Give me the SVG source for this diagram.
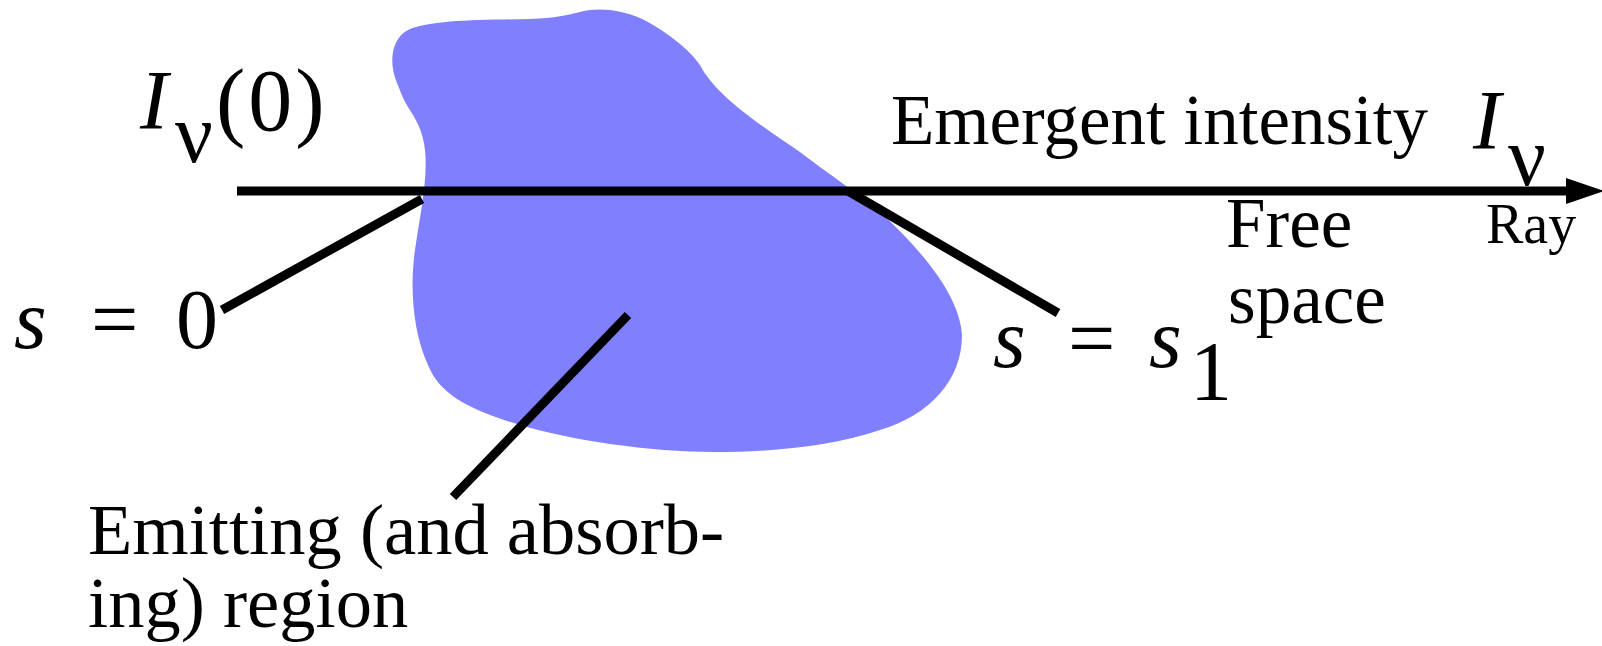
<svg xmlns="http://www.w3.org/2000/svg" width="1602" height="646" viewBox="0 0 1602 646">
<style>
text { font-family: "Liberation Serif", "Times New Roman", serif; fill: #000; }
.t { font-size: 71px; }
.m { font-size: 84px; }
.it { font-style: italic; }
.ln { stroke: #000; stroke-width: 9; fill: none; stroke-linecap: butt; }
</style>
<rect width="1602" height="646" fill="#fff"/>
<g id="region">
<path fill="#8080FF" d="M 397,83 C 388,62 392,38 408,30 C 430,20 480,20 530,19 C 555,18 568,15 580,12 C 600,7 620,10 640,18 C 665,30 690,50 700,65 C 715,95 760,125 800,152 C 830,175 860,195 880,212 C 930,258 960,300 962,335 C 962,380 930,415 880,430 C 830,447 770,452 714,452 C 650,452 570,440 520,425 C 470,410 440,395 428,365 C 412,330 410,285 415,250 C 420,215 428,180 425,150 C 423,130 415,118 408,107 C 402,97 400,90 397,83 Z"/>
</g>
<g id="connectors">
<line class="ln" x1="237" y1="191" x2="1570" y2="191"/>
<polygon points="1566,178 1604,191 1566,204" fill="#000"/>
<line class="ln" x1="222" y1="310" x2="422" y2="199"/>
<line class="ln" x1="848" y1="191" x2="1058" y2="313"/>
<line class="ln" x1="628" y1="315" x2="453" y2="497"/>
</g>
<g id="label-I0">
<text class="m it" x="140" y="129">I</text>
<text class="m" x="175" y="162">ν</text>
<text x="216" y="130" font-size="88" letter-spacing="3">(0)</text>
</g>
<g id="label-emergent">
<text class="t" x="891" y="144">Emergent intensity</text>
<text class="m it" x="1473" y="149">I</text>
<text class="m" x="1508" y="185">ν</text>
</g>
<g id="label-ray">
<text x="1486" y="243" font-size="56">Ray</text>
</g>
<g id="label-freespace">
<text class="t" x="1226" y="247">Free</text>
<text class="t" x="1228" y="323">space</text>
</g>
<g id="label-s0">
<text class="m it" x="14" y="348">s</text>
<text class="m" x="91" y="348">=</text>
<text class="m" x="176" y="348">0</text>
</g>
<g id="label-s1">
<text class="m it" x="993" y="367">s</text>
<text class="m" x="1068" y="367">=</text>
<text class="m it" x="1149" y="367">s</text>
<text class="m" x="1190" y="400">1</text>
</g>
<g id="label-emitting">
<text x="88" y="554" font-size="72.5">Emitting (and absorb-</text>
<text x="88" y="627" font-size="72.5">ing) region</text>
</g>
</svg>
